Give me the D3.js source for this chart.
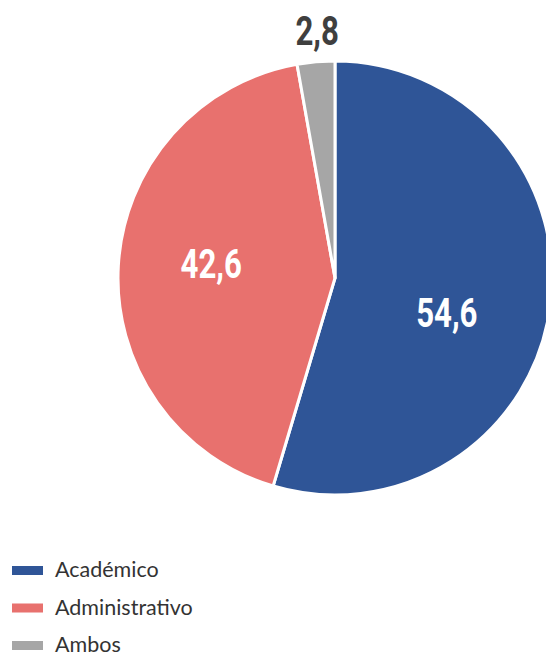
<!DOCTYPE html>
<html><head><meta charset="utf-8">
<script src="https://cdn.jsdelivr.net/npm/d3@7"></script>
<style>body{margin:0;background:#fff;overflow:hidden}</style>
</head><body>
<svg id="c" width="546" height="653"></svg>
<script>
const categories = ["Académico", "Administrativo", "Ambos"];
const values = [54.6, 42.6, 2.8];
const labels = ["54,6", "42,6", "2,8"];
const colors = ["#2F5597", "#E8716E", "#A6A6A6"];

const svg = d3.select("#c");
const cx = 335, cy = 278, r = 217;
const g = svg.append("g").attr("transform", `translate(${cx},${cy})`);

const pie = d3.pie().sort(null).value(d => d)(values);
const arc = d3.arc().innerRadius(0).outerRadius(r);

g.selectAll("path").data(pie).enter().append("path")
  .attr("d", arc)
  .attr("fill", (d, i) => colors[i])
  .attr("stroke", "#fff").attr("stroke-width", 3).attr("stroke-linejoin", "round");

// label placement radii / tweaks
const labelCfg = [
  {rad: 113, dy: 33, fill: "#fff"},
  {rad: 124, dy: 7, fill: "#fff"},
  {rad: 249, dy: 15, dx: 4, fill: "#3F3F3F"}
];
g.selectAll("text.lbl").data(pie).enter().append("text")
  .attr("class", "lbl")
  .attr("transform", (d, i) => {
    const c = d3.arc().innerRadius(labelCfg[i].rad).outerRadius(labelCfg[i].rad).centroid(d);
    return `translate(${c[0] + (labelCfg[i].dx || 0)},${c[1] + labelCfg[i].dy}) scale(0.78,1)`;
  })
  .attr("text-anchor", "middle")
  .attr("font-family", "Roboto, sans-serif")
  .attr("font-weight", "bold")
  .attr("font-size", 40)
  .attr("fill", (d, i) => labelCfg[i].fill)
  .text((d, i) => labels[i]);

// legend
const lg = svg.append("g").attr("transform", "translate(12,566)");
const item = lg.selectAll("g").data(categories).enter().append("g")
  .attr("transform", (d, i) => `translate(0,${i * 37.5})`);
item.append("rect").attr("x", 0).attr("y", 0).attr("width", 31).attr("height", 9)
  .attr("fill", (d, i) => colors[i]);
item.append("text").attr("x", 43).attr("y", 11)
  .attr("font-family", "Lato, 'Open Sans', sans-serif")
  .attr("font-size", 21.5).attr("fill", "#333333")
  .text(d => d);
</script>
</body></html>
